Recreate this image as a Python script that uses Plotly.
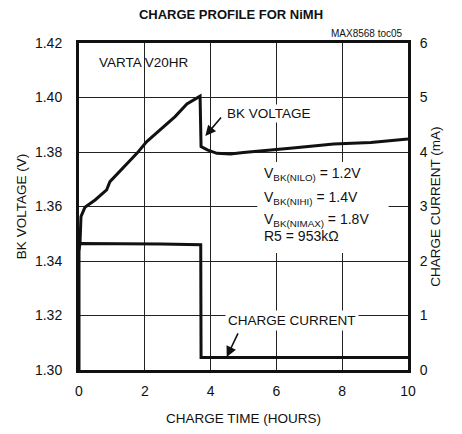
import plotly.graph_objects as go

# Data
volt_t = [0.0, 0.03, 0.06, 0.18, 0.49, 0.84, 0.94, 1.4, 1.76, 2.06, 2.57, 2.92, 3.28, 3.68,
          3.71, 3.9, 4.19, 4.6, 5.0, 5.71, 6.5, 7.74, 8.87, 10.0]
volt_v = [1.344, 1.3465, 1.3563, 1.3597, 1.3624, 1.3661, 1.3691, 1.3749, 1.3795, 1.3838, 1.3891,
          1.393, 1.3976, 1.4005, 1.382, 1.3808, 1.3795, 1.3793, 1.3798, 1.3807, 1.3815, 1.3829,
          1.3835, 1.3848]

curr_t = [0.0, 0.0, 2.5, 3.7, 3.71, 10.0]
curr_ma = [0.0, 2.32, 2.31, 2.30, 0.23, 0.23]

x_ticks = [0, 2, 4, 6, 8, 10]
y_ticks = [1.30, 1.32, 1.34, 1.36, 1.38, 1.40, 1.42]
y_tick_labels = ["1.30", "1.32", "1.34", "1.36", "1.38", "1.40", "1.42"]
y2_ticks = [0, 1, 2, 3, 4, 5, 6]

block_lines = ["V<sub>BK(NILO)</sub> = 1.2V", "V<sub>BK(NIHI)</sub> = 1.4V",
               "V<sub>BK(NIMAX)</sub> = 1.8V", "R5 = 953kΩ"]

FONT = "Liberation Sans, Arial, Helvetica, sans-serif"

fig = go.Figure()
fig.add_trace(go.Scatter(x=volt_t, y=volt_v, mode="lines",
                         line=dict(color="#111", width=3), yaxis="y", showlegend=False))
fig.add_trace(go.Scatter(x=curr_t, y=curr_ma, mode="lines",
                         line=dict(color="#111", width=3), yaxis="y2", showlegend=False))

W, H = 446, 418  # page body has an 8px margin
grid = "#222"
fig.update_layout(
    width=W, height=H,
    margin=dict(l=71, r=46, t=35, b=56),
    plot_bgcolor="white", paper_bgcolor="white",
    font=dict(family=FONT, color="#111", size=14),
    title=dict(text="<b>CHARGE PROFILE FOR NiMH</b>", x=0.5, xanchor="center",
               y=1 - 6 / H, yanchor="middle", yref="container",
               font=dict(family=FONT, size=13, color="#111")),
    xaxis=dict(range=[0, 10], tickvals=x_ticks, showgrid=True, gridcolor=grid, gridwidth=1,
               showline=True, linecolor="#111", linewidth=3, mirror=True, automargin=False,
               ticks="", ticklabelstandoff=6, tickfont=dict(size=14), zeroline=False,
               title=dict(text="CHARGE TIME (HOURS)", font=dict(size=13.5), standoff=17)),
    yaxis=dict(range=[1.30, 1.42], tickvals=y_ticks, ticktext=y_tick_labels,
               showgrid=True, gridcolor=grid, gridwidth=1, automargin=False,
               showline=True, linecolor="#111", linewidth=3, mirror=True,
               ticks="", ticklabelstandoff=11, tickfont=dict(size=14), zeroline=False,
               title=dict(text="BK VOLTAGE (V)", font=dict(size=13.5), standoff=6)),
    yaxis2=dict(range=[0, 6], tickvals=y2_ticks, overlaying="y", side="right",
                showgrid=False, showline=True, linecolor="#111", linewidth=3, automargin=False,
                ticks="", ticklabelstandoff=6, tickfont=dict(size=14), zeroline=False,
                title=dict(text="CHARGE CURRENT (mA)", font=dict(size=13.5), standoff=4)),
)

# white backing behind the parameter text block (hides grid lines, below the curves)
fig.add_shape(type="rect", xref="x", yref="y", x0=5.42, x1=9.41, y0=1.3429, y1=1.3763,
              fillcolor="white", line=dict(width=0), layer="between")

fig.add_annotation(text="VARTA V20HR", x=0.55, y=1.4128, xref="x", yref="y",
                   xanchor="left", yanchor="middle", showarrow=False, font=dict(size=13.5))
fig.add_annotation(text="BK VOLTAGE", x=4.44, y=1.3943, xref="x", yref="y",
                   xanchor="left", yanchor="middle", showarrow=False, font=dict(size=13.5),
                   bgcolor="white", borderpad=1)
fig.add_annotation(text="", x=3.84, y=1.3859, xref="x", yref="y", ax=17, ay=-20,
                   showarrow=True, arrowhead=2, arrowsize=1.3, arrowwidth=1.6, arrowcolor="#111")
fig.add_annotation(text="CHARGE CURRENT", x=4.44, y=0.9, xref="x", yref="y2",
                   xanchor="left", yanchor="middle", showarrow=False, font=dict(size=13.5),
                   bgcolor="white", borderpad=2)
fig.add_annotation(text="", x=4.49, y=0.24, xref="x", yref="y2", ax=12, ay=-25,
                   showarrow=True, arrowhead=2, arrowsize=1.3, arrowwidth=1.6, arrowcolor="#111")

block_y = [1.3718, 1.3633, 1.3551, 1.3492]
for txt, yy in zip(block_lines, block_y):
    fig.add_annotation(text=txt, x=5.57, y=yy, xref="x", yref="y", xanchor="left",
                       yanchor="middle", align="left", showarrow=False, font=dict(size=14))

fig.add_annotation(text="MAX8568 toc05", x=1, y=1, xref="paper", yref="paper",
                   xanchor="right", yanchor="middle", yshift=10, xshift=-3, showarrow=False,
                   font=dict(family=FONT, size=10))

fig.write_html("out.html")
